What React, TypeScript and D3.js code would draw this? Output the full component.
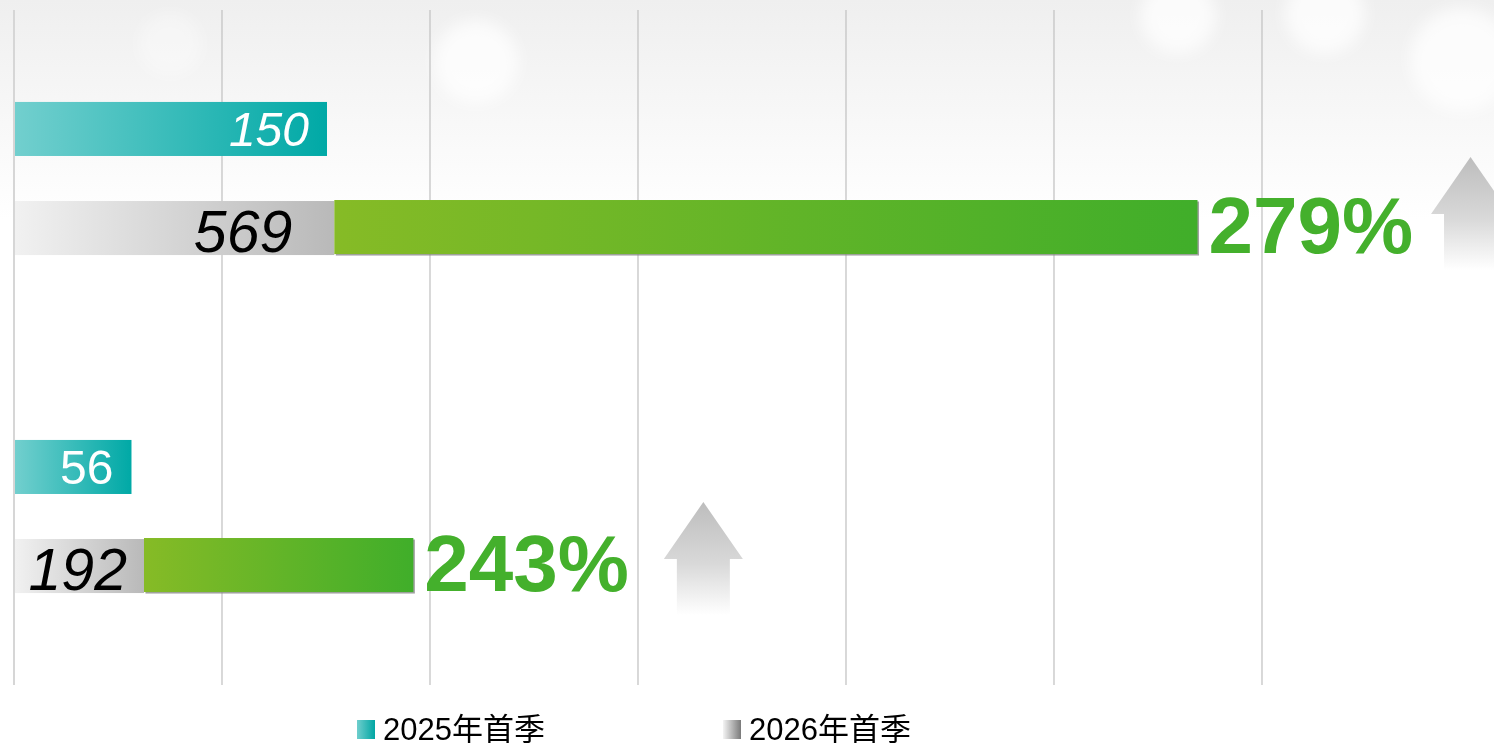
import React from "react";
import * as d3 from "d3";

const groups = ["A", "B"];
const values2025 = [150, 56];
const values2026 = [569, 192];
const baseSplit = [154, 62.5];
const xTicks = [0, 100, 200, 300, 400, 500, 600];
const legendLabels = ["2025年首季", "2026年首季"];

const W = 1494;
const H = 743;

export default function App() {
  const x = d3.scaleLinear().domain([0, 700]).range([14, 1470]);
  const yGroup = d3.scaleBand<string>().domain(groups).range([9, 685]).paddingInner(0.55).paddingOuter(0.275);
  const ySub = d3.scaleBand<string>().domain(["2025", "2026"]).range([0, yGroup.bandwidth()]).paddingInner(0.449);
  const bh = ySub.bandwidth();
  const labelInset = [42, 17];
  const label25Font = [48, 48];
  const label25Italic = [true, false];
  const pct = values2026.map((v, i) => Math.round((v / values2025[i] - 1) * 100));
  const bokeh = [
    { cx: 476, cy: 62, r: 42, o: 0.75 },
    { cx: 1178, cy: 16, r: 38, o: 0.75 },
    { cx: 1325, cy: 14, r: 40, o: 0.75 },
    { cx: 1462, cy: 60, r: 52, o: 0.75 },
    { cx: 170, cy: 45, r: 32, o: 0.35 },
  ];
  const arrow = (cx: number, tipY: number) => {
    const headH = 57, headW = 79, shaftW = 53, shaftH = 56;
    return [
      [cx, tipY],
      [cx + headW / 2, tipY + headH],
      [cx + shaftW / 2, tipY + headH],
      [cx + shaftW / 2, tipY + headH + shaftH],
      [cx - shaftW / 2, tipY + headH + shaftH],
      [cx - shaftW / 2, tipY + headH],
      [cx - headW / 2, tipY + headH],
    ].map((p) => p.join(",")).join(" ");
  };
  return (
    <svg width={W} height={H} style={{ position: "absolute", left: 0, top: 0, display: "block" }}
      fontFamily="'Liberation Sans', Arial, 'Noto Sans CJK SC', sans-serif">
      <defs>
        <linearGradient id="bg" x1="0" y1="0" x2="0" y2="1">
          <stop offset="0" stopColor="#efefef" />
          <stop offset="0.5" stopColor="#f7f7f7" />
          <stop offset="1" stopColor="#ffffff" />
        </linearGradient>
        <filter id="blur" x="-50%" y="-50%" width="200%" height="200%">
          <feGaussianBlur stdDeviation="8" />
        </filter>
        <linearGradient id="teal" x1="0" x2="1" y1="0" y2="0">
          <stop offset="0" stopColor="#72cfce" />
          <stop offset="1" stopColor="#00a9a6" />
        </linearGradient>
        <linearGradient id="gray" x1="0" x2="1" y1="0" y2="0">
          <stop offset="0" stopColor="#f1f1f1" />
          <stop offset="1" stopColor="#b9b9b9" />
        </linearGradient>
        <linearGradient id="green" x1="0" x2="1" y1="0" y2="0">
          <stop offset="0" stopColor="#86bb26" />
          <stop offset="1" stopColor="#40ae2a" />
        </linearGradient>
        <linearGradient id="arrowG" x1="0" x2="0" y1="0" y2="1">
          <stop offset="0" stopColor="#bdbdbd" />
          <stop offset="0.55" stopColor="#d9d9d9" />
          <stop offset="1" stopColor="#ffffff" />
        </linearGradient>
        <linearGradient id="legTeal" x1="0" x2="1" y1="0" y2="0">
          <stop offset="0" stopColor="#6fcecd" />
          <stop offset="1" stopColor="#00a6a3" />
        </linearGradient>
        <linearGradient id="legGray" x1="0" x2="1" y1="0" y2="0">
          <stop offset="0" stopColor="#f4f4f4" />
          <stop offset="1" stopColor="#7a7a7a" />
        </linearGradient>
      </defs>
      <rect x={0} y={0} width={W} height={H} fill="#ffffff" />
      <rect x={0} y={0} width={W} height={220} fill="url(#bg)" />
      <g filter="url(#blur)">
        {bokeh.map((b, i) => (
          <circle key={i} cx={b.cx} cy={b.cy} r={b.r} fill="#ffffff" opacity={b.o} />
        ))}
      </g>
      {xTicks.map((t, i) => (
        <line key={t} x1={x(t)} x2={x(t)} y1={10} y2={685}
          stroke={i === 0 ? "#d6d6d6" : "#c4c4c4"} strokeWidth={i === 0 ? 2 : 1.3} />
      ))}
      {groups.map((g, i) => {
        const g0 = yGroup(g)!;
        const y25 = g0 + ySub("2025")!;
        const y26 = g0 + ySub("2026")!;
        const x0 = x(0) + 1;
        const xs = x(baseSplit[i]);
        const xe = x(values2026[i]);
        return (
          <g key={g}>
            <rect x={x0} y={y25} width={x(values2025[i]) + 1 - x0} height={bh} fill="url(#teal)" />
            <text x={x(values2025[i]) - 17} y={y25 + bh / 2 + 17} textAnchor="end" fill="#ffffff"
              fontSize={label25Font[i]} fontStyle={label25Italic[i] ? "italic" : "normal"}>
              {values2025[i]}
            </text>
            <rect x={x0} y={y26 + 1} width={xs - x0} height={bh} fill="url(#gray)" />
            <rect x={xs + 1.5} y={y26 + 1.5} width={xe - xs} height={bh} fill="#8a8a8a" opacity={0.8} />
            <rect x={xs} y={y26} width={xe - xs} height={bh} fill="url(#green)" />
            <text x={xs - labelInset[i]} y={y26 + bh - 2} textAnchor="end" fill="#000000"
              fontSize={59} fontStyle="italic">
              {values2026[i]}
            </text>
            <text x={xe + 11} y={y26 + bh - 1} fill="#44b02c" fontSize={80} fontWeight="bold">
              {pct[i] + "%"}
            </text>
            <polygon points={arrow(xe + (i === 0 ? 273 : 290), y26 - (i === 0 ? 43 : 36))} fill="url(#arrowG)" />
          </g>
        );
      })}
      <g>
        <rect x={357} y={720} width={18} height={19} fill="url(#legTeal)" />
        <text x={383} y={740} fontSize={31} fill="#000000">{legendLabels[0]}</text>
        <rect x={723} y={720} width={18} height={19} fill="url(#legGray)" />
        <text x={749} y={740} fontSize={31} fill="#000000">{legendLabels[1]}</text>
      </g>
    </svg>
  );
}
